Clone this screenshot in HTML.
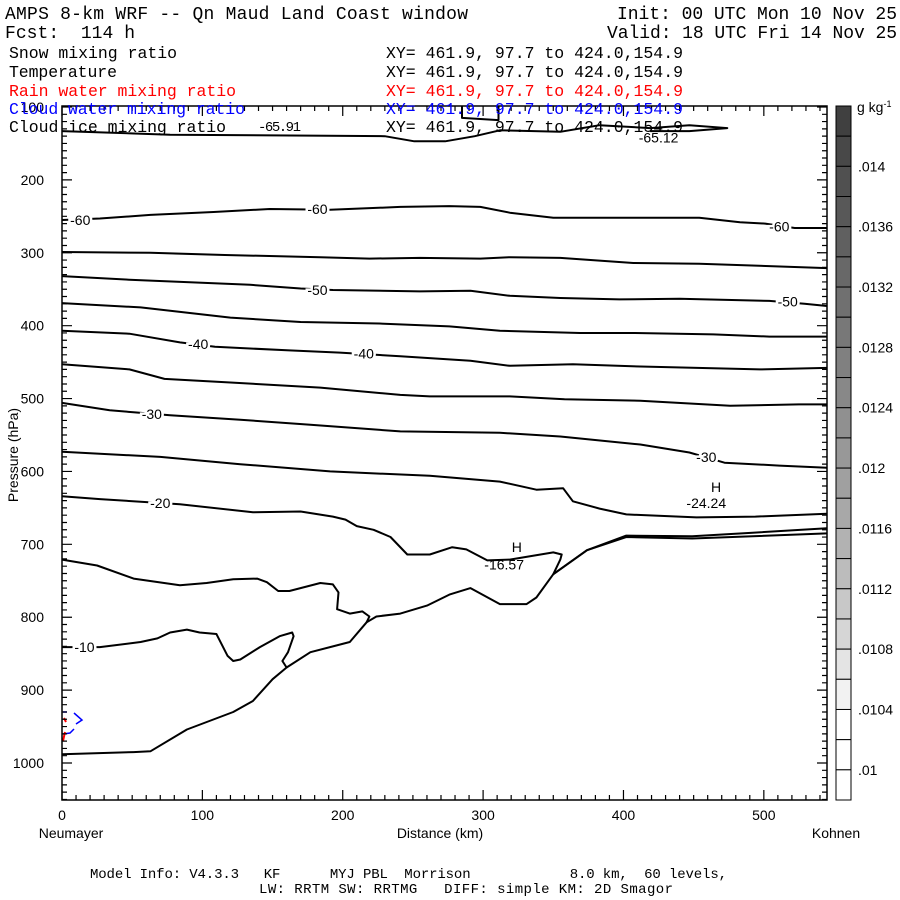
<!DOCTYPE html>
<html><head><meta charset="utf-8"><style>
html,body{margin:0;padding:0;background:#fff;}
svg{display:block;}
text{font-family:"Liberation Mono",monospace;white-space:pre;}
.ax{font-family:"Liberation Sans",sans-serif;font-size:14px;}
</style></head><body>
<svg id="chart" width="900" height="900" viewBox="0 0 900 900" xmlns="http://www.w3.org/2000/svg" xml:space="preserve">
<rect x="0" y="0" width="900" height="900" fill="#fff"/>
<g font-size="18">
<text x="5" y="19" textLength="463">AMPS 8-km WRF -- Qn Maud Land Coast window</text>
<text x="5" y="38" textLength="130">Fcst:  114 h</text>
<text x="617" y="19" textLength="280">Init: 00 UTC Mon 10 Nov 25</text>
<text x="607" y="38" textLength="290">Valid: 18 UTC Fri 14 Nov 25</text>
</g>
<g id="plot"></g>
<g font-size="16.5">
<text x="9" y="58" textLength="168">Snow mixing ratio</text>
<text x="386" y="58" textLength="297">XY= 461.9, 97.7 to 424.0,154.9</text>
<text x="9" y="77" textLength="108">Temperature</text>
<text x="386" y="77" textLength="297">XY= 461.9, 97.7 to 424.0,154.9</text>
<text x="9" y="96" fill="#ff0000" textLength="227">Rain water mixing ratio</text>
<text x="386" y="96" fill="#ff0000" textLength="297">XY= 461.9, 97.7 to 424.0,154.9</text>
<text x="9" y="114" fill="#0000ff" textLength="236">Cloud water mixing ratio</text>
<text x="386" y="114" fill="#0000ff" textLength="297">XY= 461.9, 97.7 to 424.0,154.9</text>
<text x="9" y="132" textLength="217">Cloud ice mixing ratio</text>
<text x="258" y="131" font-size="14" textLength="43">-65.91</text>
<text x="386" y="132" textLength="297">XY= 461.9, 97.7 to 424.0,154.9</text>
</g>
<g font-size="14">
<text x="90" y="878" textLength="637">Model Info: V4.3.3   KF      MYJ PBL  Morrison            8.0 km,  60 levels,</text>
<text x="259" y="893" textLength="414">LW: RRTM SW: RRTMG   DIFF: simple KM: 2D Smagor</text>
</g>
</svg>
<script>
// axes
const xTicks = [0,100,200,300,400,500];
const yTicks = [100,200,300,400,500,600,700,800,900,1000];
const xMin = 0, xMax = 545, pTop = 99, pBot = 1050;
const cbColors = ['#404040','#484848','#505050','#585858','#606060','#686868','#707070','#787878','#808080','#888888','#909090','#989898','#a0a0a0','#a8a8a8','#b2b2b2','#bcbcbc','#c8c8c8','#d6d6d6','#e4e4e4','#f2f2f2','#ffffff','#ffffff','#ffffff'];
const cbLabels = ['.014','.0136','.0132','.0128','.0124','.012','.0116','.0112','.0108','.0104','.01'];
// contours: km and hPa
const c65_km=[0,77,230,251,273,294,312,355,383,419,447,474,447,419];
const c65_p=[133,138,140,147,147,140,132,134,125,129,125,129,133,133];
const c65b_km=[285,285,311,311];
const c65b_p=[99,115,118,99];
const c60_km=[0,27,63,108,148,191,241,276,298,319,350,454,483,501,522,545];
const c60_p=[255,253,248,244,240,241,237,236,237,245,252,252,258,260,266,266];
const c55_km=[0,63,116,184,219,255,298,319,355,407,454,545];
const c55_p=[299,300,303,306,308,307,308,306,307,314,315,321];
const c50_km=[0,48,134,170,193,255,291,319,355,397,440,504,529,545];
const c50_p=[332,337,344,349,351,353,352,359,362,364,363,366,370,373];
const c45_km=[0,56,120,170,226,276,312,369,407,464,504,545];
const c45_p=[369,375,389,395,397,401,407,410,410,412,415,415];
const c40_km=[0,48,84,109,162,198,241,291,319,364,412,497,545];
const c40_p=[407,411,423,429,434,437,442,448,455,453,456,460,458];
const c35_km=[0,48,73,120,184,241,262,319,358,412,476,525,545];
const c35_p=[453,460,473,478,485,495,497,497,501,503,510,508,508];
const c30_km=[0,34,52,77,127,177,241,312,355,412,447,472,511,545];
const c30_p=[506,516,519,523,529,536,545,547,552,563,574,588,592,595];
const c25_km=[0,70,127,191,262,312,338,357,364,383,402,452,494,545];
const c25_p=[573,580,590,600,606,614,625,623,641,651,659,663,662,658];
const c20_km=[0,27,84,136,170,193,202,210,222,234,246,262,278,288,303,319,350,356,355,350,374,402,449,492,545];
const c20_p=[634,638,645,656,655,662,666,675,680,690,714,714,704,707,722,721,711,714,721,741,708,688,689,684,678];
const c15_km=[0,25,51,84,103,122,139,146,154,162,184,193,197,196,205,214,219,217];
const c15_p=[721,729,747,756,753,748,747,752,764,764,753,755,766,789,795,792,799,807];
const c10_km=[0,27,56,68,77,89,98,110,118,122,127,141,155,164,165,161,157,160,177,193,205,217,224,241,260,276,291,312,331,338,350,374,402,449,492,545];
const c10_p=[841,841,834,829,821,817,821,823,853,860,858,841,826,821,826,848,860,869,848,840,834,807,799,795,784,769,760,782,782,773,741,708,690,692,689,685];
const c0_km=[0,51,63,89,122,136,150,160];
const c0_p=[988,985,984,954,930,915,885,869];
const contourNames=['contour-minus-65','contour-minus-65-cell','contour-minus-60','contour-minus-55','contour-minus-50','contour-minus-45','contour-minus-40','contour-minus-35','contour-minus-30','contour-minus-25','contour-minus-20','contour-minus-15','contour-minus-10','contour-minus-5'];
const contourKm=[c65_km,c65b_km,c60_km,c55_km,c50_km,c45_km,c40_km,c35_km,c30_km,c25_km,c20_km,c15_km,c10_km,c0_km];
const contourP=[c65_p,c65b_p,c60_p,c55_p,c50_p,c45_p,c40_p,c35_p,c30_p,c25_p,c20_p,c15_p,c10_p,c0_p];
const labelText=['-60','-60','-60','-50','-50','-40','-40','-30','-30','-20','-10'];
const labelKm=[13,182,511,182,517,97,215,64,459,70,16];
const labelP=[255,240,264,351,367,425,438,521,580,643,841];
const extText=['H','-24.24','H','-16.57','-65.12'];
const extKm=[466,459,324,315,425];
const extP=[621,643,704,728,142];

const X0=62,X1=827,Y0=106,Y1=800;
function xs(k){return X0+(k-xMin)/(xMax-xMin)*(X1-X0);}
function ys(p){return 107+(p-100)/(1000-100)*(763-107);}
const NS='http://www.w3.org/2000/svg';
const plot=document.getElementById('plot');
function mk(tag,attrs,parent){const e=document.createElementNS(NS,tag);for(const k in attrs)e.setAttribute(k,attrs[k]);(parent||plot).appendChild(e);return e;}

// contours
for(let i=0;i<contourKm.length;i++){
  let d='';
  for(let j=0;j<contourKm[i].length;j++){d+=(j?'L':'M')+xs(contourKm[i][j]).toFixed(1)+' '+ys(contourP[i][j]).toFixed(1);}
  const pth=mk('path',{d:d,fill:'none',stroke:'#000','stroke-width':'2','stroke-linejoin':'round'});
  
  
}
// cloud water / rain small marks
const cw=mk('path',{d:'M63 712L67 712M74 713L82 720L76 724M63 734L70 733L74 729',fill:'none',stroke:'#0000ff','stroke-width':'1.5'});


const rw=mk('path',{d:'M64 718L66 722M65 732L63 741',fill:'none',stroke:'#ff0000','stroke-width':'2'});



// contour labels
for(let i=0;i<labelText.length;i++){
  const t=mk('text',{x:xs(labelKm[i]),y:ys(labelP[i])+5,'text-anchor':'middle','font-size':'14',stroke:'#fff','stroke-width':'5','paint-order':'stroke',fill:'#000',class:'ax'});
  t.textContent=labelText[i];
  
  
}
for(let i=0;i<extText.length;i++){
  const t=mk('text',{x:xs(extKm[i]),y:ys(extP[i])+5,'text-anchor':'middle','font-size':'14',fill:'#000',class:'ax'});
  t.textContent=extText[i];
  
  
}

// frame
const fr=mk('rect',{x:X0,y:Y0,width:X1-X0,height:Y1-Y0,fill:'none',stroke:'#000','stroke-width':'1.5'});


// ticks
let td='';
for(let k=0;k<=xMax;k+=10){const x=xs(k);const L=(k%100===0)?10:5;td+='M'+x+' '+Y1+'v-'+L+'M'+x+' '+Y0+'v'+L;}
for(let p=100;p<=pBot;p+=10){const y=ys(p);const L=(p%100===0)?10:5;td+='M'+X0+' '+y+'h'+L+'M'+X1+' '+y+'h-'+L;}
const tk=mk('path',{d:td,stroke:'#000','stroke-width':'1.2',fill:'none'});


xTicks.forEach(k=>{const t=mk('text',{x:xs(k),y:820,'text-anchor':'middle',class:'ax'});t.textContent=String(k);
  
  });
yTicks.forEach(p=>{const t=mk('text',{x:44,y:ys(p)+5,'text-anchor':'end',class:'ax'});t.textContent=String(p);
  
  });
const yt=mk('text',{x:0,y:0,transform:'translate(18,455) rotate(-90)','text-anchor':'middle',class:'ax'});yt.textContent='Pressure (hPa)';


const xt=mk('text',{x:440,y:838,'text-anchor':'middle',class:'ax'});xt.textContent='Distance (km)';


const nl=mk('text',{x:71,y:838,'text-anchor':'middle',class:'ax'});nl.textContent='Neumayer';


const kl=mk('text',{x:836,y:838,'text-anchor':'middle',class:'ax'});kl.textContent='Kohnen';



// colorbar
const bh=(Y1-Y0)/cbColors.length;
cbColors.forEach((c,i)=>{const r=mk('rect',{x:836,y:Y0+i*bh,width:15,height:bh,fill:c,stroke:'#000','stroke-width':'1'});
  
  });
cbLabels.forEach((l,i)=>{const t=mk('text',{x:858,y:Y0+(2+2*i)*bh+5,class:'ax','font-size':'13'});t.textContent=l;
  
  });
const un=mk('text',{x:857,y:112,class:'ax','font-size':'12'});un.innerHTML='g kg<tspan dy="-5" font-size="9">-1</tspan>';


</script>
</body></html>
